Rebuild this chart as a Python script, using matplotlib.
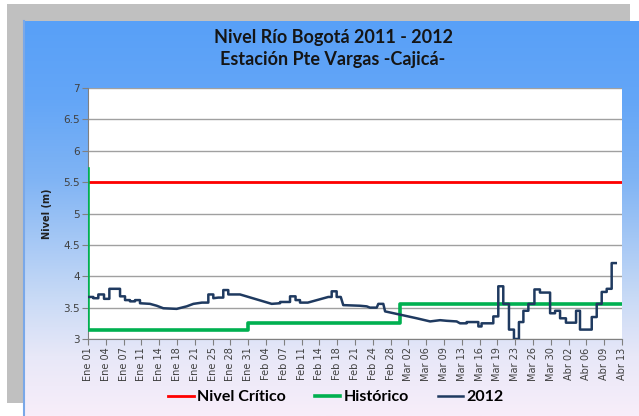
"""Nivel Río Bogotá 2011 - 2012, estación Pte Vargas (Cajicá)."""

import matplotlib
matplotlib.use("Agg")
import matplotlib.pyplot as plt
import numpy as np
from matplotlib.colors import LinearSegmentedColormap
from matplotlib.patches import Rectangle

# Etiquetas del eje X (una cada marca de categoría)
fechas = [
    "Ene 01", "Ene 04", "Ene 07", "Ene 11", "Ene 14", "Ene 18", "Ene 21", "Ene 25",
    "Ene 28", "Ene 31", "Feb 04", "Feb 07", "Feb 11", "Feb 14", "Feb 18", "Feb 21",
    "Feb 24", "Feb 28", "Mar 02", "Mar 06", "Mar 09", "Mar 13", "Mar 16", "Mar 19",
    "Mar 23", "Mar 26", "Mar 30", "Abr 02", "Abr 06", "Abr 09", "Abr 13",
]

# Nivel crítico (m)
nivel_critico = 5.5

# Histórico: posición sobre el eje de categorías y nivel (m)
pos_historico = [0.0, 0.0, 9.0, 9.0, 17.5, 17.5, 30.0]
nivel_historico = [5.71, 3.15, 3.15, 3.26, 3.26, 3.55, 3.55]

# 2012: lecturas (posición en el eje, nivel en m)
pos_2012 = [
    0.00, 0.30, 0.30, 0.58, 0.58, 0.90, 0.90, 1.20, 1.20, 1.80, 1.80, 2.08, 2.08,
    2.36, 2.36, 2.64, 2.64, 2.92, 2.92, 3.48, 3.86, 4.23, 4.98, 5.54, 5.92, 6.40,
    6.76, 6.76, 7.04, 7.04, 7.32, 7.60, 7.60, 7.88, 7.88, 8.54, 10.32, 10.79, 10.79,
    11.35, 11.35, 11.66, 11.66, 11.91, 11.91, 12.35, 13.50, 13.69, 13.69, 13.97,
    13.97, 14.20, 14.34, 15.28, 15.66, 15.84, 16.22, 16.31, 16.59, 16.69, 17.34,
    18.47, 19.22, 19.78, 20.15, 20.71, 20.90, 21.27, 21.27, 21.93, 21.93, 22.11,
    22.11, 22.77, 22.77, 23.05, 23.05, 23.33, 23.33, 23.65, 23.65, 23.93, 23.93,
    24.21, 24.21, 24.46, 24.46, 24.74, 24.74, 25.08, 25.08, 25.39, 25.39, 25.96,
    25.96, 26.24, 26.24, 26.52, 26.52, 26.85, 26.85, 27.42, 27.42, 27.64, 27.64,
    28.30, 28.30, 28.58, 28.58, 28.86, 28.86, 29.14, 29.14, 29.42, 29.42, 29.65,
]
nivel_2012 = [
    3.67, 3.67, 3.65, 3.65, 3.71, 3.71, 3.64, 3.64, 3.80, 3.80, 3.68, 3.68, 3.62,
    3.62, 3.60, 3.60, 3.62, 3.62, 3.57, 3.56, 3.53, 3.49, 3.48, 3.52, 3.56, 3.58,
    3.58, 3.71, 3.71, 3.65, 3.66, 3.66, 3.78, 3.78, 3.71, 3.71, 3.56, 3.57, 3.59,
    3.59, 3.68, 3.68, 3.62, 3.62, 3.58, 3.58, 3.67, 3.67, 3.76, 3.76,
    3.67, 3.67, 3.54, 3.53, 3.52, 3.50, 3.50, 3.56, 3.56, 3.44, 3.40,
    3.33, 3.28, 3.30, 3.29, 3.28, 3.25, 3.25, 3.27, 3.27, 3.20, 3.20,
    3.25, 3.25, 3.36, 3.36, 3.84, 3.84, 3.56, 3.56, 3.15, 3.15, 3.00,
    3.00, 3.27, 3.27, 3.45, 3.45, 3.56, 3.56, 3.79, 3.79, 3.74, 3.74,
    3.41, 3.41, 3.45, 3.45, 3.33, 3.33, 3.26, 3.26, 3.45, 3.45, 3.15,
    3.15, 3.35, 3.35, 3.56, 3.56, 3.75, 3.75, 3.80, 3.80, 4.21, 4.21,
]

W, H = 639, 416
fig = plt.figure(figsize=(W / 100, H / 100), dpi=100)
fig.patch.set_facecolor("white")

# Fondo: sombra gris y panel con degradado azul
bg = fig.add_axes([0, 0, 1, 1], zorder=0)
bg.set_xlim(0, W)
bg.set_ylim(H, 0)
bg.set_axis_off()
bg.add_patch(Rectangle((7, 4), 623, 399, facecolor="#c0c0c0", edgecolor="none"))
grad = LinearSegmentedColormap.from_list(
    "fondo",
    [(0.0, "#58a0f8"), (0.2, "#64a6f7"), (0.4, "#80b4f4"),
     (0.7, "#c8daf6"), (0.85, "#e8e8f8"), (1.0, "#f8eefa")],
)
bg.imshow(np.linspace(0, 1, 256).reshape(-1, 1), cmap=grad, aspect="auto",
          extent=[23, W, H, 21], zorder=1)
bg.plot([24, 24], [21, H], color="#7aa8e8", lw=1.5, zorder=2)

ax = fig.add_axes([88 / W, (H - 339) / H, (622 - 88) / W, (339 - 88) / H], zorder=1)
ax.set_facecolor("white")

ax.plot([0, len(fechas) - 1], [nivel_critico, nivel_critico], color="#ff0000",
        lw=2, label="Nivel Crítico", zorder=3)
ax.plot(pos_historico, nivel_historico, color="#00b050", lw=2.6,
        label="Histórico", zorder=4)
ax.plot(pos_2012, nivel_2012, color="#1f3a60", lw=1.8, label="2012", zorder=5)

ax.set_xlim(0, len(fechas) - 1)
ax.set_ylim(3, 7)
ax.set_yticks(np.arange(3, 7.01, 0.5))
ax.set_yticklabels(["3", "3.5", "4", "4.5", "5", "5.5", "6", "6.5", "7"])
ax.set_xticks(range(len(fechas)))
ax.set_xticklabels(fechas, rotation=90)
ax.yaxis.grid(True, color="#a0a0a0", lw=1)
ax.set_axisbelow(True)
ax.tick_params(axis="both", direction="out", length=4, color="#808080",
               labelsize=7, labelcolor="#404040", pad=2)
ax.tick_params(axis="y", labelsize=7.5)
for side in ("top", "right"):
    ax.spines[side].set_visible(False)
for side in ("left", "bottom"):
    ax.spines[side].set_color("#808080")
ax.set_ylabel("Nivel (m)", fontsize=7, fontweight="bold", color="#202020", labelpad=8)

fig.text(333 / W, 1 - 38 / H, "Nivel Río Bogotá 2011 - 2012", ha="center", va="center",
         fontsize=13, family="Lato", fontweight="bold", color="#151515")
fig.text(333 / W, 1 - 60 / H, "Estación Pte Vargas -Cajicá-", ha="center", va="center",
         fontsize=13, family="Lato", fontweight="bold", color="#151515")

fig.legend(loc="center", bbox_to_anchor=(336 / W, 1 - 397 / H), ncol=3, frameon=False,
           prop={"family": "Lato", "weight": "bold", "size": 11.5},
           handlelength=1.6, handletextpad=0.2, columnspacing=1.8)

fig.savefig("out.png", dpi=100)
